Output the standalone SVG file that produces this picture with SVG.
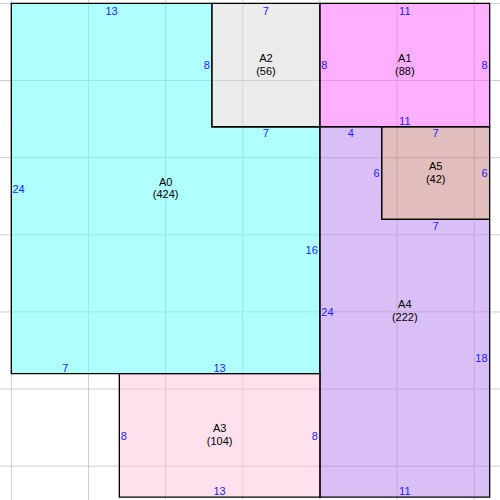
<svg xmlns="http://www.w3.org/2000/svg" width="500" height="500" viewBox="0 0 500 500">
<style>
.room{stroke:#000;stroke-width:1.3;stroke-linejoin:miter;fill:none}
.fill{fill-opacity:0.5;stroke:none}
.grid{stroke:#cdcdcd;stroke-width:1;fill:none}
text{font-family:"Liberation Sans",Arial,sans-serif;font-size:11px}
.name{fill:#000;text-anchor:middle}
.dim{fill:#1a1aff}
.c{text-anchor:middle}
.r{text-anchor:end}
.l{text-anchor:start}
</style>
<rect width="500" height="500" fill="#fff"/>
<g id="grid" class="grid">
<path d="M11.33,0V500M88.48,0V500M165.63,0V500M242.78,0V500M319.93,0V500M397.08,0V500M474.23,0V500"/>
<path d="M0,3.33H500M0,80.48H500M0,157.63H500M0,234.78H500M0,311.93H500M0,389.08H500M0,466.23H500"/>
</g>
<g id="A0">
<path class="fill" fill="#5fffff" d="M11.33,3.33H211.92V126.77H319.93V373.65H11.33Z"/>
<path class="room" d="M11.33,3.33H211.92V126.77H319.93V373.65H11.33Z"/>
<text class="name" x="165.63" y="186">A0</text>
<text class="name" x="165.63" y="198">(424)</text>
<text class="dim c" x="111.63" y="14.5">13</text>
<text class="dim r" x="209.8" y="69">8</text>
<text class="dim c" x="265.93" y="137">7</text>
<text class="dim r" x="317.8" y="254">16</text>
<text class="dim c" x="219.64" y="371.5">13</text>
<text class="dim c" x="65.34" y="371.5">7</text>
<text class="dim l" x="12.5" y="192.5">24</text>
</g>
<g id="A2">
<path class="fill" fill="#d7d7d7" d="M211.92,3.33H319.93V126.77H211.92Z"/>
<path class="room" d="M211.92,3.33H319.93V126.77H211.92Z"/>
<text class="name" x="265.93" y="62">A2</text>
<text class="name" x="265.93" y="74.5">(56)</text>
<text class="dim c" x="265.93" y="14.5">7</text>
</g>
<g id="A1">
<path class="fill" fill="#ff5fff" d="M319.93,3.33H489.66V126.77H319.93Z"/>
<path class="room" d="M319.93,3.33H489.66V126.77H319.93Z"/>
<text class="name" x="404.8" y="62">A1</text>
<text class="name" x="404.8" y="74.5">(88)</text>
<text class="dim c" x="404.8" y="14.5">11</text>
<text class="dim l" x="321.3" y="69">8</text>
<text class="dim r" x="487.6" y="69">8</text>
<text class="dim c" x="404.8" y="124.5">11</text>
</g>
<g id="A5">
<path class="fill" fill="#c57b7b" d="M381.65,126.77H489.66V219.35H381.65Z"/>
<path class="room" d="M381.65,126.77H489.66V219.35H381.65Z"/>
<text class="name" x="435.66" y="170">A5</text>
<text class="name" x="435.66" y="182.5">(42)</text>
<text class="dim c" x="435.66" y="137">7</text>
<text class="dim r" x="487.6" y="177">6</text>
</g>
<g id="A4">
<path class="fill" fill="#b37fed" d="M319.93,126.77H381.65V219.35H489.66V497.09H319.93Z"/>
<path class="room" d="M319.93,126.77H381.65V219.35H489.66V497.09H319.93Z"/>
<text class="name" x="404.8" y="308">A4</text>
<text class="name" x="404.8" y="320.5">(222)</text>
<text class="dim c" x="350.79" y="137">4</text>
<text class="dim r" x="379.6" y="177">6</text>
<text class="dim c" x="435.66" y="230">7</text>
<text class="dim l" x="321.3" y="316">24</text>
<text class="dim r" x="487.6" y="362">18</text>
<text class="dim c" x="404.8" y="495">11</text>
</g>
<g id="A3">
<path class="fill" fill="#ffc3dd" d="M119.34,373.65H319.93V497.09H119.34Z"/>
<path class="room" d="M119.34,373.65H319.93V497.09H119.34Z"/>
<text class="name" x="219.64" y="432">A3</text>
<text class="name" x="219.64" y="444.5">(104)</text>
<text class="dim l" x="120.7" y="439.5">8</text>
<text class="dim r" x="317.8" y="439.5">8</text>
<text class="dim c" x="219.64" y="495">13</text>
</g>
<g id="connectors"/>
</svg>
